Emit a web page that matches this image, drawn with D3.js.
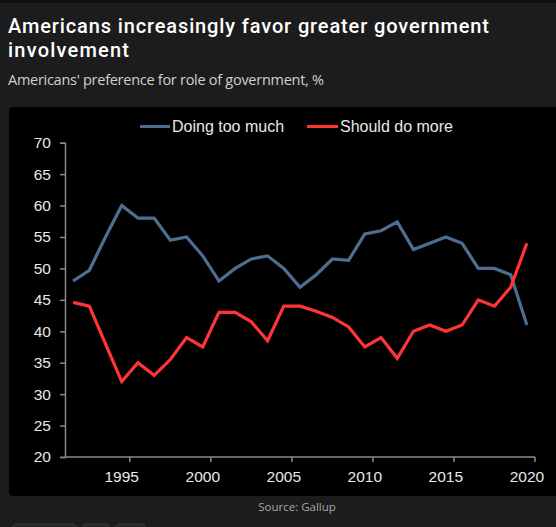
<!DOCTYPE html>
<html>
<head>
<meta charset="utf-8">
<script src="https://cdn.jsdelivr.net/npm/d3@7/dist/d3.min.js"></script>
<style>
  html, body { margin: 0; padding: 0; background: #1c1c1c; }
  svg { display: block; }
</style>
</head>
<body>
<svg id="chart" width="556" height="527"></svg>
<script>
const years = d3.range(1992, 2021);
const doingTooMuch = [48, 49.7, 55, 60, 58, 58, 54.5, 55, 52, 48, 50, 51.5, 52, 50, 47, 49, 51.5, 51.3, 55.5, 56, 57.4, 53, 54, 55, 54, 50, 50, 49, 41];
const shouldDoMore = [44.6, 44, 38, 32, 35, 33, 35.5, 39, 37.5, 43, 43, 41.5, 38.5, 44, 44, 43.2, 42.2, 40.7, 37.5, 39, 35.7, 40, 41, 40, 41, 45, 44, 47, 54];
const yTicks = [20, 25, 30, 35, 40, 45, 50, 55, 60, 65, 70];
const xLabelYears = [1995, 2000, 2005, 2010, 2015, 2020];
const seriesNames = ["Doing too much", "Should do more"];

const svg = d3.select("#chart");
const W = 556, H = 527;

// top stripe
svg.append("rect").attr("x", 0).attr("y", 0).attr("width", W).attr("height", 3).attr("fill", "#101010");

// title
const titleFont = "Roboto, 'Open Sans', sans-serif";
const subFont = "'Open Sans', 'Noto Sans', sans-serif";
svg.append("text").attr("x", 8).attr("y", 33).attr("fill", "#ffffff")
  .attr("font-family", titleFont).attr("font-weight", 500).attr("font-size", 20)
  .attr("textLength", 481).attr("lengthAdjust", "spacing")
  .text("Americans increasingly favor greater government");
svg.append("text").attr("x", 8).attr("y", 57).attr("fill", "#ffffff")
  .attr("font-family", titleFont).attr("font-weight", 500).attr("font-size", 20)
  .attr("textLength", 121).attr("lengthAdjust", "spacing")
  .text("involvement");
svg.append("text").attr("x", 8).attr("y", 85).attr("fill", "#d0d0d0")
  .attr("font-family", subFont).attr("font-weight", 400).attr("font-size", 14.5)
  .attr("textLength", 316).attr("lengthAdjust", "spacing")
  .text("Americans' preference for role of government, %");

// panel
svg.append("rect").attr("x", 9).attr("y", 107).attr("width", 560).attr("height", 389)
  .attr("rx", 4).attr("fill", "#000000");

const x = d3.scaleBand().domain(years).range([65, 535]).paddingInner(0).paddingOuter(0);
const y = d3.scaleLinear().domain([20, 70]).range([457, 142.7]);
const cx = d => x(d) + x.bandwidth() / 2;

const axisColor = "#8a8a8a";
const labelColor = "#e8e8e8";
const axisFont = "'Liberation Sans', Arial, sans-serif";

// y axis
const yAxis = d3.axisLeft(y).tickValues(yTicks).tickSize(5).tickPadding(9).tickFormat(d3.format("d"));
const gy = svg.append("g").attr("transform", "translate(65,0)").call(yAxis);
gy.select(".domain").attr("stroke", axisColor).attr("stroke-width", 1.5);
gy.selectAll(".tick line").attr("stroke", axisColor).attr("stroke-width", 1.5);
gy.selectAll(".tick text").attr("fill", labelColor).attr("font-family", axisFont).attr("font-size", 15.5);

// x axis
const gx = svg.append("g").attr("transform", "translate(0,457)");
gx.append("line").attr("x1", 65).attr("x2", 535).attr("y1", 0).attr("y2", 0)
  .attr("stroke", axisColor).attr("stroke-width", 1.5);
gx.selectAll("line.tk").data(xLabelYears).join("line").attr("class", "tk")
  .attr("x1", d => x(d) + x.bandwidth()).attr("x2", d => x(d) + x.bandwidth())
  .attr("y1", 0).attr("y2", 5).attr("stroke", axisColor).attr("stroke-width", 1.5);
gx.selectAll("text").data(xLabelYears).join("text")
  .attr("x", d => cx(d)).attr("y", 25).attr("text-anchor", "middle")
  .attr("fill", labelColor).attr("font-family", axisFont).attr("font-size", 15.5)
  .text(d => d);

// lines
const colors = ["#4f6d8f", "#ff3535"];
const series = [doingTooMuch, shouldDoMore];
const line = d3.line().x((d, i) => cx(years[i])).y(d => y(d));
series.forEach((s, k) => {
  svg.append("path").datum(s).attr("d", line).attr("fill", "none")
    .attr("stroke", colors[k]).attr("stroke-width", 3.2).attr("stroke-linejoin", "miter");
});

// legend
const legendPos = [{lx: 140, tx: 172}, {lx: 307, tx: 340}];
seriesNames.forEach((n, k) => {
  const p = legendPos[k];
  svg.append("line").attr("x1", p.lx).attr("x2", p.tx - 2).attr("y1", 126.5).attr("y2", 126.5)
    .attr("stroke", colors[k]).attr("stroke-width", 3);
  svg.append("text").attr("x", p.tx).attr("y", 132).attr("fill", labelColor)
    .attr("font-family", axisFont).attr("font-size", 16).text(n);
});

// source
svg.append("text").attr("x", 297).attr("y", 511).attr("text-anchor", "middle")
  .attr("fill", "#a8a8a8").attr("font-family", subFont).attr("font-size", 11.5)
  .text("Source: Gallup");

// partially visible buttons at bottom
[[13, 63], [83, 26], [116, 29]].forEach(([bx, bw]) => {
  svg.append("rect").attr("x", bx).attr("y", 524).attr("width", bw).attr("height", 14)
    .attr("rx", 3).attr("fill", "#262626").attr("stroke", "#3a3a3a");
});
</script>
</body>
</html>
